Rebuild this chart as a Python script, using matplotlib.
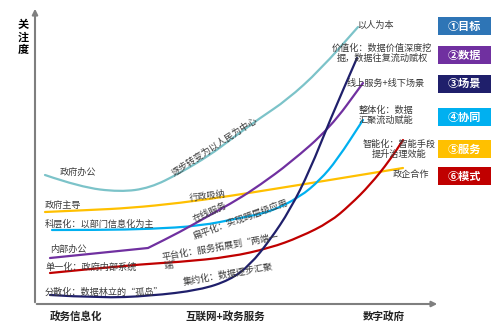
import matplotlib.pyplot as plt
from matplotlib.patches import Rectangle, PathPatch
from matplotlib.path import Path

plt.rcParams['font.family'] = ['Noto Sans CJK SC', 'DejaVu Sans']

# curve points (pixel coords, y downwards)
teal_x = [45, 80, 120, 150, 180, 210, 230, 260, 287, 320, 358]
teal_y = [175, 187, 192, 188, 173, 155, 140, 118, 100, 70, 27]
orange_x = [45, 90, 130, 180, 230, 280, 330, 403]
orange_y = [212, 210, 208, 203, 196, 188, 180, 168]
blue_x = [52, 100, 150, 200, 240, 270, 300, 320, 337, 363]
blue_y = [230, 230, 229, 226, 218, 212, 197, 180, 160, 120]
purple_x = [50, 148, 180, 210, 237, 260, 290, 330, 363]
purple_y = [258, 248, 232, 215, 200, 185, 163, 128, 83]
red_x = [50, 130, 180, 230, 270, 300, 330, 350, 370, 390, 403]
red_y = [273, 265, 262, 257, 248, 237, 222, 205, 185, 160, 140]
navy_x = [50, 100, 150, 200, 230, 250, 270, 290, 310, 330, 357]
navy_y = [295, 298, 296, 290, 280, 265, 240, 210, 170, 120, 58]

curves = [
    (teal_x, teal_y, '#7cc3c9'),
    (orange_x, orange_y, '#ffc000'),
    (blue_x, blue_y, '#00b0f0'),
    (purple_x, purple_y, '#7030a0'),
    (red_x, red_y, '#c00000'),
    (navy_x, navy_y, '#1f1f6b'),
]

box_labels = ['①目标', '②数据', '③场景', '④协同', '⑤服务', '⑥模式']
box_colors = ['#2e75b6', '#7030a0', '#1f1f6b', '#00b0f0', '#ffc000', '#c00000']
box_top = [17, 46, 75, 108, 140, 167]

stage_labels = ['政务信息化', '互联网+政务服务', '数字政府']
stage_x = [76, 225, 384]


def smooth_path(xs, ys, corner=None):
    # quadratic bezier through midpoints, points act as control points
    pts = list(zip(xs, ys))
    verts = [pts[0]]
    codes = [Path.MOVETO]
    for i in range(1, len(pts) - 1):
        mid = ((pts[i][0] + pts[i + 1][0]) / 2, (pts[i][1] + pts[i + 1][1]) / 2)
        if i == corner:
            verts += [pts[i], mid]
            codes += [Path.LINETO, Path.LINETO]
        else:
            verts += [pts[i], mid]
            codes += [Path.CURVE3, Path.CURVE3]
    verts.append(pts[-1])
    codes.append(Path.LINETO)
    return Path(verts, codes)


fig = plt.figure(figsize=(4.92, 3.31), dpi=100)
ax = fig.add_axes([0, 0, 1, 1])
ax.set_xlim(0, 492)
ax.set_ylim(331, 0)
ax.axis('off')

# axes with arrows
ax.annotate('', xy=(35, 6), xytext=(35, 305),
            arrowprops=dict(arrowstyle='-|>', color='#7f7f7f', lw=1.5, mutation_scale=8))
ax.annotate('', xy=(440, 304), xytext=(34, 304),
            arrowprops=dict(arrowstyle='-|>', color='#7f7f7f', lw=1.5, mutation_scale=8))
ax.text(23, 37, '关\n注\n度', ha='center', va='center', fontsize=8, fontweight='bold',
        linespacing=0.95)

for i, (x, y, c) in enumerate(curves):
    corner = 1 if c == '#7030a0' else None
    ax.add_patch(PathPatch(smooth_path(x, y, corner), facecolor='none', edgecolor=c,
                           lw=1.6, capstyle='round'))

fs = 6.6
tc = '#3a3a3a'
# left side labels
ax.text(60, 172, '政府办公', fontsize=fs, color=tc, va='center')
ax.text(45, 205, '政府主导', fontsize=fs, color=tc, va='center')
ax.text(45, 224, '科层化：以部门信息化为主', fontsize=fs, color=tc, va='center')
ax.text(50, 249, '内部办公', fontsize=fs, color=tc, va='center')
ax.text(45, 267, '单一化：政府内部系统', fontsize=fs, color=tc, va='center')
ax.text(45, 292, '分散化：数据林立的“孤岛”', fontsize=fs, color=tc, va='center')

# middle labels along the curves
ax.text(215, 147, '逐步转变为以人民为中心', fontsize=fs, color=tc, ha='center', va='center', rotation=33)
ax.text(207, 196, '行政吸纳', fontsize=fs, color=tc, ha='center', va='center', rotation=7)
ax.text(210, 212, '在线服务', fontsize=fs, color=tc, ha='center', va='center', rotation=24)
ax.text(241, 219, '扁平化：实现跨层级应用', fontsize=fs, color=tc, ha='center', va='center', rotation=20)
ax.text(163, 262, '平台化：服务拓展到“两端一\n端”', fontsize=fs, color=tc, ha='left', va='center',
        rotation=10, rotation_mode='anchor', linespacing=1.1)
ax.text(228, 275, '集约化：数据逐步汇聚', fontsize=fs, color=tc, ha='center', va='center', rotation=10)

# right side labels
ax.text(357, 25, '以人为本', fontsize=fs, color=tc, va='center')
ax.text(382, 53, '价值化：数据价值深度挖\n掘，数据往复流动赋权', fontsize=fs, color=tc,
        ha='center', va='center', linespacing=1.1)
ax.text(386, 83, '线上服务+线下场景', fontsize=fs, color=tc, ha='center', va='center')
ax.text(386, 115, '整体化：数据\n汇聚流动赋能', fontsize=fs, color=tc, ha='center', va='center',
        linespacing=1.1)
ax.text(399, 149, '智能化：智能手段\n提升治理效能', fontsize=fs, color=tc, ha='center', va='center',
        linespacing=1.1)
ax.text(393, 175, '政企合作', fontsize=fs, color=tc, va='center')

# legend boxes
for lab, c, top in zip(box_labels, box_colors, box_top):
    ax.add_patch(Rectangle((438, top), 53, 18, facecolor=c, edgecolor='none'))
    ax.text(464.5, top + 9, lab, fontsize=8, color='white', fontweight='bold',
            ha='center', va='center')

for lab, x in zip(stage_labels, stage_x):
    ax.text(x, 317, lab, fontsize=7.6, fontweight='bold', color='#222222', ha='center', va='center')

fig.savefig('out.png', dpi=100)
